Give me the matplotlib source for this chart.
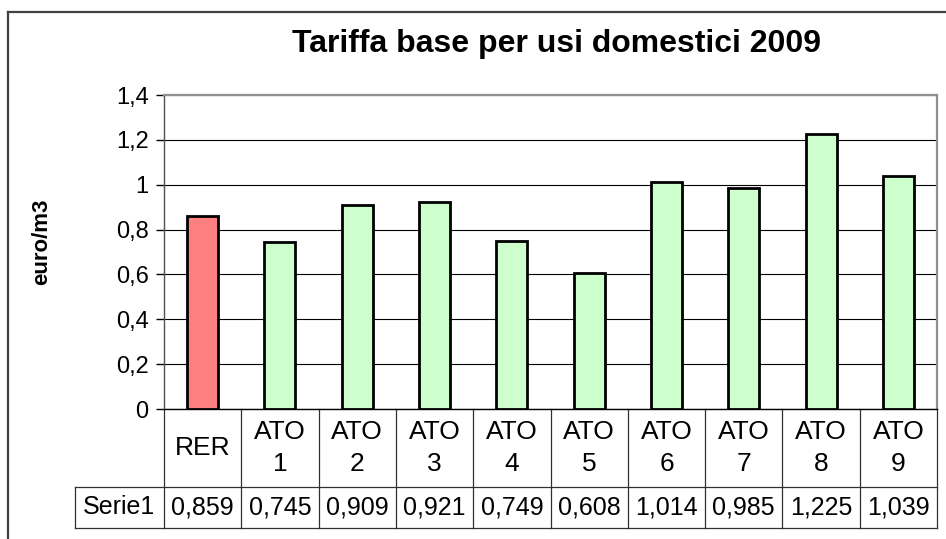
import matplotlib
matplotlib.use("Agg")
import matplotlib.pyplot as plt
import matplotlib.transforms as mtransforms
from matplotlib.lines import Line2D

plt.rcParams['font.family'] = ['Liberation Sans', 'DejaVu Sans']

categories = ["RER", "ATO\n1", "ATO\n2", "ATO\n3", "ATO\n4", "ATO\n5",
              "ATO\n6", "ATO\n7", "ATO\n8", "ATO\n9"]
values = [0.859, 0.745, 0.909, 0.921, 0.749, 0.608, 1.014, 0.985, 1.225, 1.039]
series_name = "Serie1"
title = "Tariffa base per usi domestici 2009"
ylabel = "euro/m3"
yticks = [0, 0.2, 0.4, 0.6, 0.8, 1.0, 1.2, 1.4]
ytick_labels = ["0", "0,2", "0,4", "0,6", "0,8", "1", "1,2", "1,4"]

colors = ["#FF8080"] + ["#CCFFCC"] * (len(values) - 1)

W, H = 946, 539
fig = plt.figure(figsize=(W / 100, H / 100), dpi=100)

# plot area in pixels
L, R, T, B = 164, 937, 95, 409
ax = fig.add_axes([L / W, 1 - B / H, (R - L) / W, (B - T) / H])

x = list(range(len(values)))
ax.bar(x, values, width=0.4, color=colors, edgecolor="black", linewidth=2, zorder=3)
ax.set_xlim(-0.5, len(values) - 0.5)
ax.set_ylim(0, 1.4)
ax.set_yticks(yticks)
ax.set_yticklabels(ytick_labels, fontsize=17)
ax.tick_params(axis='y', length=6, width=1, color='black', pad=5)
ax.set_xticks([])
ax.yaxis.grid(True, color='black', linewidth=0.8, zorder=0)
for s in ['top', 'right']:
    ax.spines[s].set_color('#909090')
    ax.spines[s].set_linewidth(1.6)
ax.spines['left'].set_color('#505050')
ax.spines['left'].set_linewidth(1.0)
ax.spines['bottom'].set_color('black')
ax.spines['bottom'].set_linewidth(1.0)

# Data table below the axis
trans = mtransforms.blended_transform_factory(ax.transData, ax.transAxes)
ph = B - T
row1_bot = -(486.7 - B) / ph
row2_bot = -(528 - B) / ph
left_lbl = (74.7 - L) / (R - L)
n = len(values)

def line(xs, ys, tr):
    ax.add_line(Line2D(xs, ys, transform=tr, color='#303030', linewidth=0.9, clip_on=False))

# vertical lines through both rows
for i in range(n + 1):
    line([i - 0.5, i - 0.5], [0, row2_bot], trans)
# horizontal lines
line([left_lbl, 1], [row1_bot, row1_bot], ax.transAxes)
line([left_lbl, 1], [row2_bot, row2_bot], ax.transAxes)
line([left_lbl, left_lbl], [row1_bot, row2_bot], ax.transAxes)

for i, (c, v) in enumerate(zip(categories, values)):
    ax.text(i, row1_bot / 2, c, transform=trans, ha='center', va='center',
            fontsize=19, linespacing=1.45)
    ax.text(i, (row1_bot + row2_bot) / 2, f"{v:.3f}".replace('.', ','),
            transform=trans, ha='center', va='center', fontsize=18)
ax.text((left_lbl + 0) / 2, (row1_bot + row2_bot) / 2, series_name,
        transform=ax.transAxes, ha='center', va='center', fontsize=18)

# title and y label
fig.text(556 / W, 1 - 44 / H, title, ha='center', va='center',
         fontsize=23, fontweight='bold')
fig.text(42 / W, 1 - 242 / H, ylabel, ha='center', va='center',
         fontsize=16, fontweight='bold', rotation=90)

# outer chart frame (left and top visible)
fig.add_artist(Line2D([8 / W, 8 / W], [0, 1 - 12 / H], transform=fig.transFigure,
                      color='#404040', linewidth=1.6))
fig.add_artist(Line2D([8 / W, 1], [1 - 12 / H, 1 - 12 / H], transform=fig.transFigure,
                      color='#404040', linewidth=1.6))

fig.savefig("out.png", dpi=100)
